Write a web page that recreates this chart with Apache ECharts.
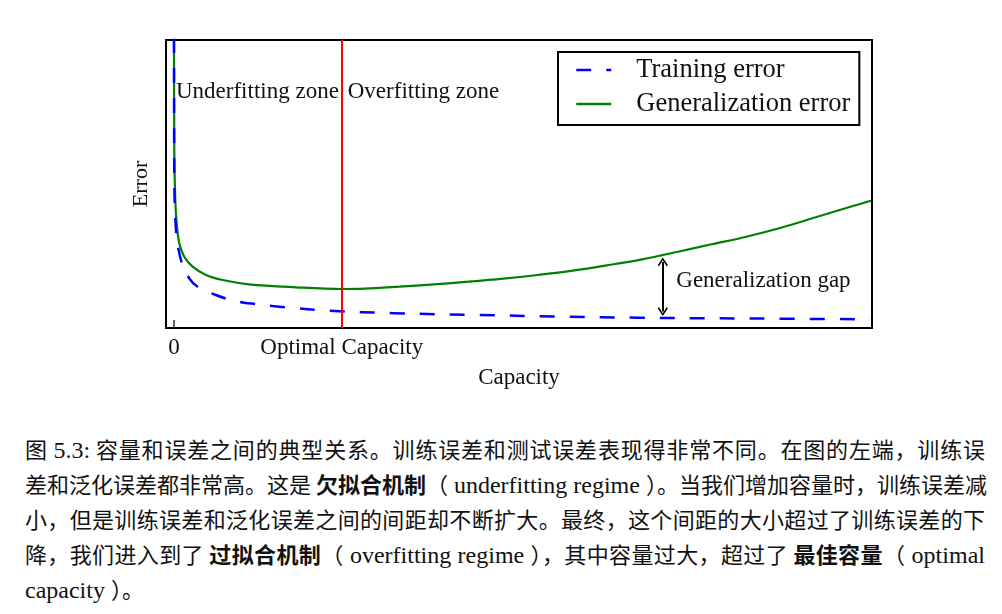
<!DOCTYPE html>
<html>
<head>
<meta charset="utf-8">
<script src="https://cdn.jsdelivr.net/npm/echarts@6/dist/echarts.min.js"></script>
<style>
html,body{margin:0;padding:0;background:#fff;}
#wrap{position:relative;width:1002px;height:614px;overflow:hidden;}
#chart{position:absolute;left:0;top:0;width:1002px;height:420px;}
#cap{position:absolute;left:25px;top:431px;width:960px;font-family:"Noto Sans CJK SC",sans-serif;font-size:22px;line-height:35px;color:#111;}
#cap div{text-align:justify;text-align-last:justify;white-space:nowrap;height:35px;}
#cap div.last{text-align-last:left;}
#cap b{font-weight:bold;}
#cap .l{font-family:"Liberation Serif",serif;font-size:24px;}
</style>
</head>
<body>
<div id="wrap">
<div id="chart"></div>
<div id="cap"></div>
</div>
<script>
// ---- data ----
const trainX = [0, 0.2, 2, 7, 15.3, 23.7, 42, 53.7, 70.3, 82, 98.7, 112, 156, 220, 305, 380, 463, 580, 697];
const trainY = [320, 168, 98, 68, 49.7, 41.3, 33, 29, 25.3, 24, 22, 20.7, 17.3, 14.8, 13, 11.6, 10.3, 9.5, 8.7];
const genX = [0, 0.3, 1.3, 2.7, 5.3, 10.3, 18.7, 32, 48.7, 75.3, 122, 168, 190.8, 225.5, 260.3, 295, 329.8, 364.5, 399.3, 434, 468.8, 503.6, 538.3, 573.1, 607.9, 642.6, 677.4, 698.2];
const genY = [320, 178, 128, 104.7, 84.7, 71.3, 61.3, 53, 48, 43.7, 40.7, 39, 39.3, 41.3, 43.7, 46.3, 49.3, 53, 57.3, 62.7, 68.7, 76, 83.7, 91.3, 100.3, 110.7, 121.3, 127.3];
const optimalCapacity = 168;
const tickValues = [0, 168];
const tickLabels = ['0', 'Optimal Capacity'];
const gapX = 489.5, gapTop = 66, gapBottom = 16.5;
const seriesNames = ['Training error', 'Generalization error'];
const zoneLabels = [
  {text: 'Underfitting zone', x: 2, y: 236},
  {text: 'Overfitting zone', x: 174, y: 236},
  {text: 'Generalization gap', x: 503, y: 47}
];
const captionLines = [
  '图 <span class="l">5.3:</span> 容量和误差之间的典型关系。训练误差和测试误差表现得非常不同。在图的左端，训练误',
  '差和泛化误差都非常高。这是 <b>欠拟合机制</b>（<span class="l"> underfitting regime </span>）。当我们增加容量时，训练误差减',
  '小，但是训练误差和泛化误差之间的间距却不断扩大。最终，这个间距的大小超过了训练误差的下',
  '降，我们进入到了 <b>过拟合机制</b>（<span class="l"> overfitting regime </span>），其中容量过大，超过了 <b>最佳容量</b>（<span class="l"> optimal</span>',
  '<span class="l">capacity </span>）。'
];
// ---------------

const serif = '"Liberation Serif", "DejaVu Serif", serif';
const pair = (xs, ys) => xs.map((x, i) => [x, ys[i]]);
const chevron = 'path://M5,0 L10,8 L9,9.5 L5,3 L1,9.5 L0,8 Z';

const chart = echarts.init(document.getElementById('chart'), null, {renderer: 'canvas'});
chart.setOption({
  animation: false,
  backgroundColor: '#fff',
  grid: {left: 166, top: 40, width: 706, height: 288, show: true, borderColor: '#000', borderWidth: 2, backgroundColor: 'transparent'},
  legend: {
    orient: 'vertical', left: 558, top: 52,
    borderColor: '#000', borderWidth: 2, borderRadius: 0,
    padding: [4, 9, 7, 17], itemGap: 6,
    itemWidth: 35, itemHeight: 14,
    itemStyle: {opacity: 0},
    lineStyle: {width: 2.5},
    textStyle: {fontFamily: serif, fontSize: 26.5, color: '#111', padding: [0, 0, 0, 20], lineHeight: 28},
    data: seriesNames
  },
  xAxis: {
    type: 'value', min: -8, max: 699,
    name: 'Capacity', nameLocation: 'middle', nameGap: 38,
    nameTextStyle: {fontFamily: serif, fontSize: 23, color: '#111'},
    axisLine: {show: false},
    splitLine: {show: false},
    axisTick: {show: true, inside: true, length: 8, customValues: tickValues, lineStyle: {color: '#333', width: 1.5}},
    axisLabel: {customValues: tickValues, margin: 8, fontFamily: serif, fontSize: 23, color: '#111',
      formatter: v => tickLabels[tickValues.indexOf(v)] ?? ''}
  },
  yAxis: {
    type: 'value', min: 0, max: 288,
    name: 'Error', nameLocation: 'middle', nameGap: 14, nameRotate: 90,
    nameTextStyle: {fontFamily: serif, fontSize: 22, color: '#111'},
    axisLine: {show: false}, axisTick: {show: false}, axisLabel: {show: false}, splitLine: {show: false}
  },
  series: [
    {
      name: seriesNames[0], type: 'line', data: pair(trainX, trainY),
      smooth: 0.35, showSymbol: false, symbol: 'none', clip: true,
      lineStyle: {color: '#0000ff', width: 2.5, type: [15, 15]},
      itemStyle: {color: '#0000ff'},
      markLine: {
        silent: true, symbol: [chevron, chevron], symbolSize: [10, 9],
        label: {show: false},
        lineStyle: {color: '#000', width: 2, type: 'solid'},
        data: [[{coord: [gapX, gapTop]}, {coord: [gapX, gapBottom]}]]
      },
      z: 3
    },
    {
      name: seriesNames[1], type: 'line', data: pair(genX, genY),
      smooth: 0.35, showSymbol: false, symbol: 'none', clip: true,
      lineStyle: {color: '#008000', width: 2.2},
      itemStyle: {color: '#008000'},
      markLine: {
        silent: true, symbol: 'none', label: {show: false},
        lineStyle: {color: '#ff0000', width: 2, type: 'solid'},
        data: [{xAxis: optimalCapacity}]
      },
      markPoint: {
        silent: true, symbol: 'circle', symbolSize: 0,
        label: {show: true, position: 'right', distance: 0, fontFamily: serif, fontSize: 23, color: '#111',
          formatter: p => p.name},
        data: zoneLabels.map(z => ({name: z.text, coord: [z.x, z.y]}))
      },
      z: 2
    }
  ]
});

document.getElementById('cap').innerHTML = captionLines.map((l, i) =>
  '<div' + (i === captionLines.length - 1 ? ' class="last"' : '') + '>' + l + '</div>').join('');
</script>
</body>
</html>
